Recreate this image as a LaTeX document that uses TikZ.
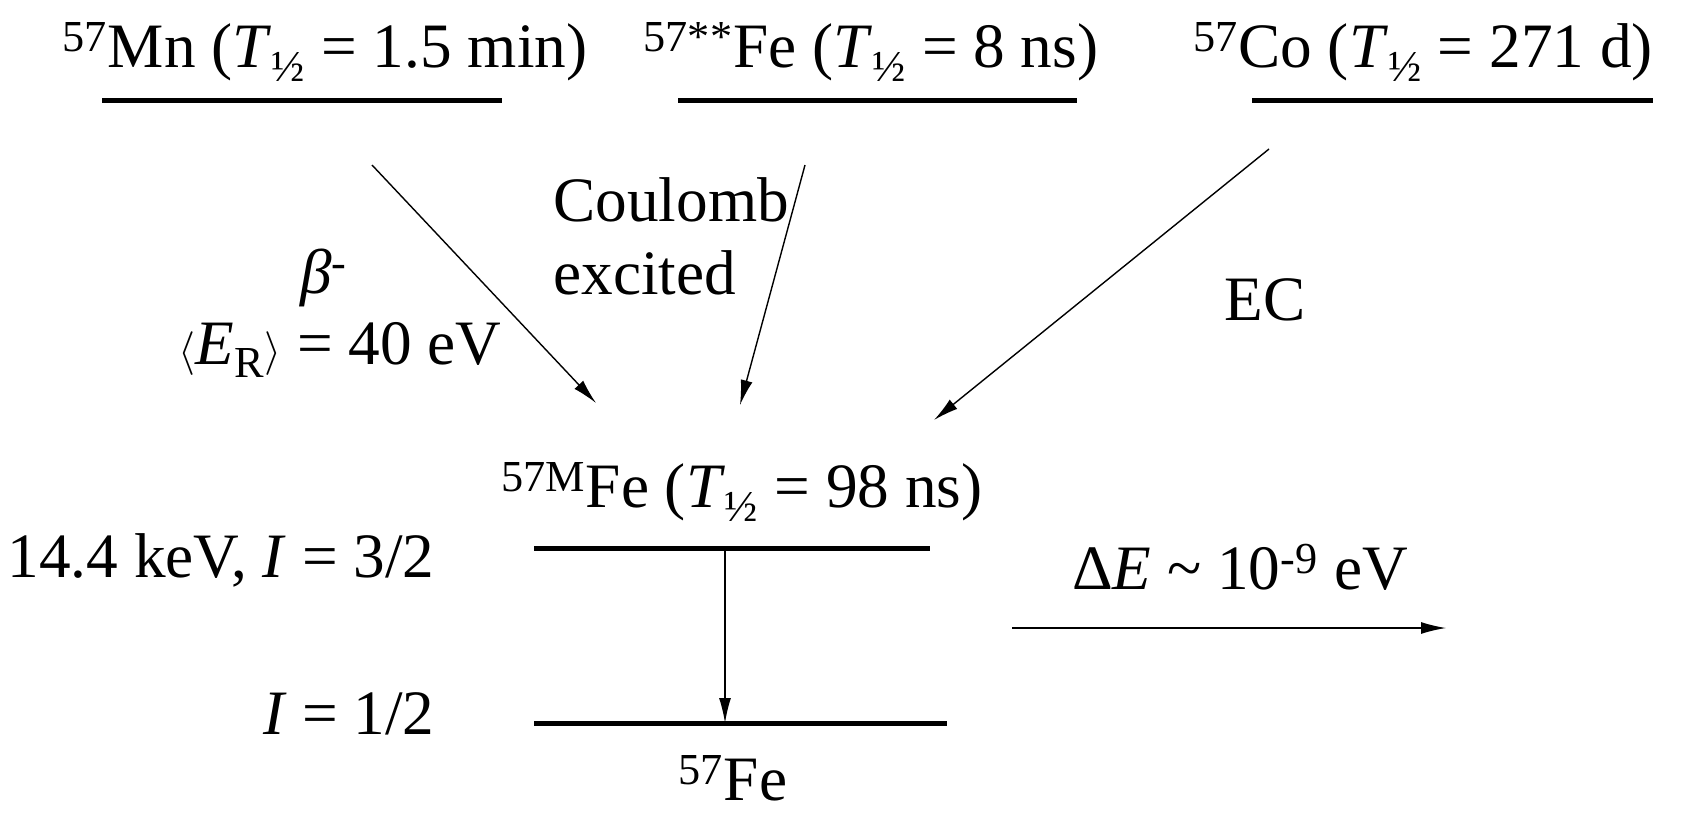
\documentclass[tikz,border=0pt]{standalone}
\usepackage{fontspec}
\setmainfont{Liberation Serif}
\usetikzlibrary{arrows.meta}

\providecommand{\thalf}{\textit{T}\textsubscript{½}}
\providecommand{\iso}[2]{\textsuperscript{#1}#2}

\begin{document}
\begin{tikzpicture}[
    x=0.02cm, y=-0.02cm,
    >={Latex[length=0.5cm, width=0.24cm]},
    etiqueta/.style={inner sep=0pt, anchor=base, font=\fontsize{36}{42}\selectfont},
    nivel/.style={line width=0.1cm},
    flecha/.style={line width=0.8pt, ->}
]
    \useasboundingbox (0,0) rectangle (1692,815);

    % NUCLEOS PADRE Y SUS NIVELES
    \node[etiqueta] (Mn) at (325,67) {\iso{57}{Mn} (\thalf\ = 1.5 min)};
    \node[etiqueta] (FeCE) at (871,67) {\iso{57**}{Fe} (\thalf\ = 8 ns)};
    \node[etiqueta] (Co) at (1423,67) {\iso{57}{Co} (\thalf\ = 271 d)};
    \draw[nivel] (102,100) -- (502,100);
    \draw[nivel] (678,100) -- (1077,100);
    \draw[nivel] (1252,100) -- (1653,100);

    % PUNTOS DE LAS FLECHAS
    \coordinate (MnA) at (372,165);
    \coordinate (MnB) at (596,403);
    \coordinate (FeA) at (805,165);
    \coordinate (FeB) at (740,405);
    \coordinate (CoA) at (1269,149);
    \coordinate (CoB) at (934,420);

    \draw[flecha] (MnA) -- (MnB);
    \draw[flecha] (FeA) -- (FeB);
    \draw[flecha] (CoA) -- (CoB);

    % ROTULOS DE LOS PROCESOS
    \node[etiqueta] (beta) at (324,293) {\textit{β}\textsuperscript{-}};
    \node[etiqueta] (ER) at (340,364) {$\langle$\textit{E}\textsubscript{R}$\rangle$ = 40 eV};
    \node[etiqueta, anchor=base west] (coul) at (553,221) {Coulomb};
    \node[etiqueta, anchor=base west] (exc) at (553,294) {excited};
    \node[etiqueta] (EC) at (1265,320) {EC};

    % NIVELES DEL 57Fe
    \node[etiqueta] (FeM) at (742,507) {\iso{57M}{Fe} (\thalf\ = 98 ns)};
    \coordinate (sup) at (725,548);
    \coordinate (inf) at (725,723);
    \draw[nivel] (534,548) -- (930,548);
    \draw[nivel] (534,723) -- (947,723);
    \draw[flecha] (sup) -- (inf);
    \node[etiqueta, anchor=base east] (exc32) at (435,577) {14.4 keV, \textit{I} = 3/2};
    \node[etiqueta, anchor=base east] (fund12) at (435,734) {\textit{I} = 1/2};
    \node[etiqueta] (Fe) at (733,800) {\iso{57}{Fe}};

    % ANCHURA DE LINEA
    \node[etiqueta] (dE) at (1240,589) {Δ\textit{E} \textasciitilde\ 10\textsuperscript{-9} eV};
    \coordinate (dEA) at (1012,628);
    \coordinate (dEB) at (1446,628);
    \draw[flecha] (dEA) -- (dEB);

\end{tikzpicture}
\end{document}
